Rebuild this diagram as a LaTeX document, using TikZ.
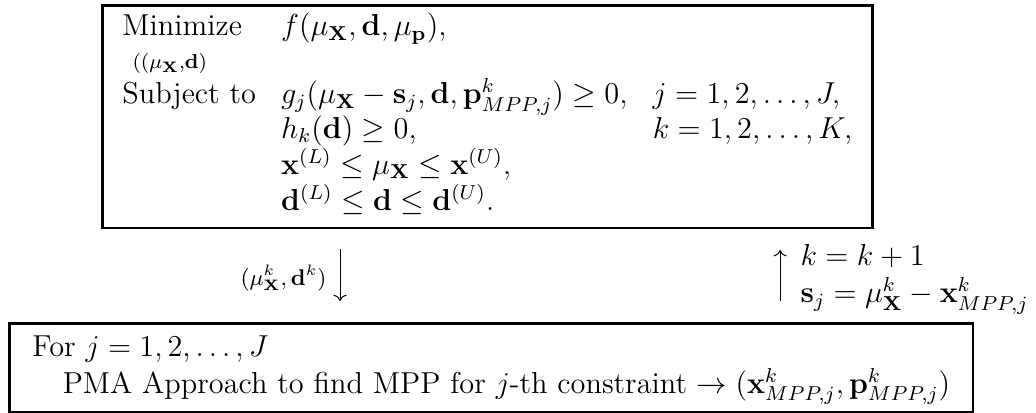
\documentclass[tikz,border=0pt,12pt]{standalone}
\usetikzlibrary{arrows.meta, positioning}

\begin{document}
\begin{tikzpicture}[
        box/.style={rectangle, draw=black, line width=1pt, inner sep=3pt, anchor=north west},
        arrow/.style={-To, line width=0.4pt},
        label/.style={inner sep=0pt}
    ]
        \useasboundingbox (0,0) rectangle (14.42,-5.735);

        \node[box] (optim) at (1.406,-0.056) {\renewcommand{\arraystretch}{0.9}$\begin{array}{lll}
            \mbox{Minimize} & f(\mu_{\mathbf{X}},\mathbf{d},\mu_{\mathbf{p}}), & \\
            \hspace{4pt}\scriptstyle ((\mu_{\mathbf{X}},\mathbf{d}) & & \\
            \mbox{Subject to} & g_j(\mu_{\mathbf{X}}-\mathbf{s}_j,\mathbf{d},\mathbf{p}^k_{MPP,j})\geq 0, & j=1,2,\ldots,J, \\
             & h_k(\mathbf{d})\geq 0, & k=1,2,\ldots,K, \\
             & \mathbf{x}^{(L)}\leq\mu_{\mathbf{X}}\leq\mathbf{x}^{(U)}, & \\
             & \mathbf{d}^{(L)}\leq\mathbf{d}\leq\mathbf{d}^{(U)}. &
        \end{array}$};
        \node[box] (pma) at (0.118,-4.482) {\begin{tabular}{l}
            For $j=1,2,\ldots,J$ \\
            \hspace{1em}PMA Approach to find MPP for $j$-th constraint $\rightarrow(\mathbf{x}^k_{MPP,j},\mathbf{p}^k_{MPP,j})$
        \end{tabular}};

        \coordinate (downtop) at (4.733,-3.47);
        \coordinate (downbot) at (4.733,-4.19);
        \coordinate (upbot) at (10.858,-4.19);
        \coordinate (uptop) at (10.858,-3.48);

        \node[label, anchor=east] (design) at (4.552,-3.87) {\fontsize{9}{11}\selectfont$(\mu^k_{\mathbf{X}},\mathbf{d}^k)$};
        \node[label, anchor=west, align=left] (update) at (11.136,-3.89) {$k=k+1$\\$\mathbf{s}_j=\mu^k_{\mathbf{X}}-\mathbf{x}^k_{MPP,j}$};

        \draw[arrow] (downtop) -- (downbot);
        \draw[arrow] (upbot) -- (uptop);
    \end{tikzpicture}
\end{document}
